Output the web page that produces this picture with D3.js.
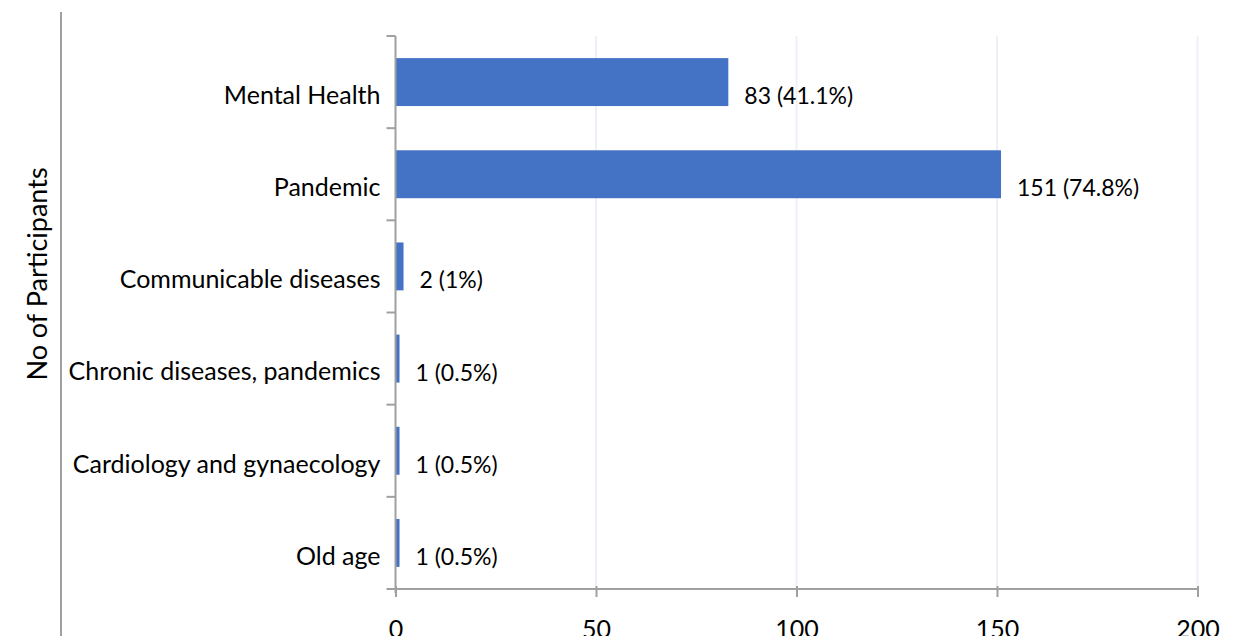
<!DOCTYPE html>
<html>
<head>
<meta charset="utf-8">
<script src="https://cdn.jsdelivr.net/npm/d3@7"></script>
<style>
  html, body { margin: 0; padding: 0; background: #fff; }
  svg { display: block; font-family: Lato, "Open Sans", sans-serif; }
</style>
</head>
<body>
<svg id="chart" width="1244" height="636"></svg>
<script>
// Research areas and number of participants
const categories = [
  "Mental Health",
  "Pandemic",
  "Communicable diseases",
  "Chronic diseases, pandemics",
  "Cardiology and gynaecology",
  "Old age"
];
const counts = [83, 151, 2, 1, 1, 1];
const percents = ["41.1%", "74.8%", "1%", "0.5%", "0.5%", "0.5%"];
const xTicks = [0, 50, 100, 150, 200];
const yTitle = "No of Participants";

const svg = d3.select("#chart");
const margin = { left: 395.5, right: 46.5, top: 36, bottom: 47 };
const W = 1244, H = 636;

const x = d3.scaleLinear().domain([0, 200]).range([margin.left, W - margin.right]);
const y = d3.scaleBand().domain(categories).range([margin.top, H - margin.bottom])
  .paddingInner(0.48).paddingOuter(0.24);

// frame line at the far left
svg.append("line")
  .attr("x1", 61).attr("x2", 61).attr("y1", 12).attr("y2", H)
  .attr("stroke", "#a0a0a0").attr("stroke-width", 2);

// vertical gridlines
svg.append("g").selectAll("line").data(xTicks.filter(d => d > 0)).join("line")
  .attr("x1", d => x(d)).attr("x2", d => x(d))
  .attr("y1", margin.top).attr("y2", H - margin.bottom)
  .attr("stroke", "#edf1f7").attr("stroke-width", 2);

// bars
svg.append("g").selectAll("rect").data(categories).join("rect")
  .attr("x", x(0))
  .attr("y", d => y(d))
  .attr("width", (d, i) => x(counts[i]) - x(0))
  .attr("height", y.bandwidth())
  .attr("fill", "#4472c4");

// x axis
const xAxis = d3.axisBottom(x).tickValues(xTicks).tickSize(8).tickPadding(23).tickSizeOuter(0);
const gx = svg.append("g").attr("transform", `translate(0,${H - margin.bottom})`).call(xAxis);
gx.select(".domain").attr("stroke", "#a0a0a0").attr("stroke-width", 2)
  .attr("d", `M${margin.left - 9},0H${x(200)}`);
gx.selectAll(".tick line").attr("stroke", "#a0a0a0").attr("stroke-width", 2).attr("y1", -3);
gx.selectAll(".tick text").attr("font-size", 25).attr("fill", "#000").attr("font-family", "Lato, sans-serif");

// y axis: ticks sit on the category boundaries
const gy = svg.append("g");
gy.append("line")
  .attr("x1", x(0)).attr("x2", x(0)).attr("y1", margin.top).attr("y2", H - margin.bottom + 4)
  .attr("stroke", "#a0a0a0").attr("stroke-width", 2);
const step = y.step();
gy.selectAll("line.tk").data(d3.range(categories.length)).join("line")
  .attr("class", "tk")
  .attr("x1", x(0) - 9).attr("x2", x(0))
  .attr("y1", i => margin.top + i * step).attr("y2", i => margin.top + i * step)
  .attr("stroke", "#a0a0a0").attr("stroke-width", 2);
gy.selectAll("text").data(categories).join("text")
  .attr("x", x(0) - 15)
  .attr("y", d => y(d) + y.bandwidth() / 2 + 13)
  .attr("dy", "0.35em")
  .attr("text-anchor", "end")
  .attr("font-size", 25)
  .attr("fill", "#000")
  .text(d => d);

// value labels
svg.append("g").selectAll("text").data(categories).join("text")
  .attr("x", (d, i) => x(counts[i]) + 16)
  .attr("y", d => y(d) + y.bandwidth() / 2 + 14)
  .attr("dy", "0.35em")
  .attr("font-size", 23)
  .attr("fill", "#000")
  .text((d, i) => `${counts[i]} (${percents[i]})`);

// axis title
svg.append("text")
  .attr("transform", `translate(38,${274}) rotate(-90)`)
  .attr("text-anchor", "middle")
  .attr("dy", "0.35em")
  .attr("font-size", 27)
  .attr("fill", "#000")
  .text(yTitle);
</script>
</body>
</html>
